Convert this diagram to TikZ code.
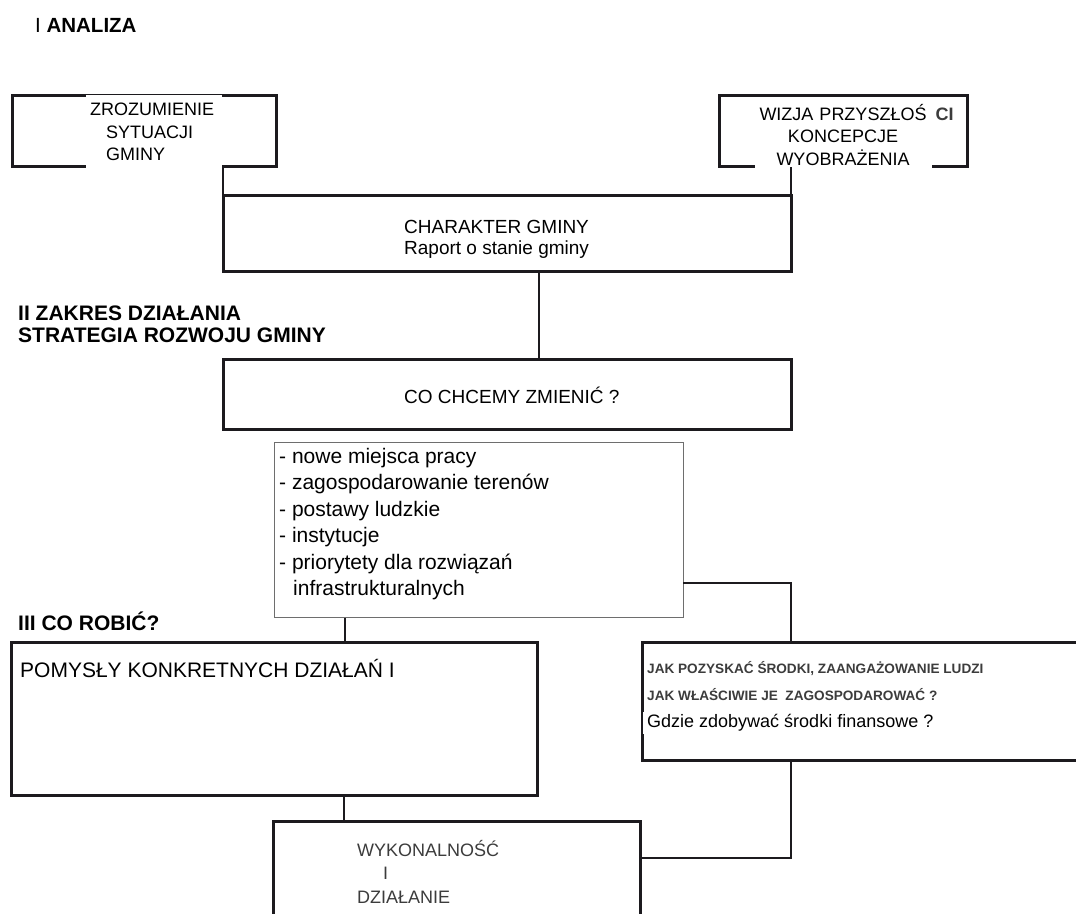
\documentclass[tikz,border=0pt]{standalone}
\usepackage{fontspec}
\setmainfont{Liberation Sans}
\usepackage{tikz}
\usetikzlibrary{positioning}
\usepackage{xcolor}
\definecolor{inkblack}{RGB}{28, 26, 30}
\definecolor{framegray}{RGB}{110, 110, 110}
\definecolor{printgray}{RGB}{60, 60, 60}

\begin{document}
\begin{tikzpicture}[x=1pt, y=1pt,
    box/.style={draw=inkblack, line width=3pt, anchor=north west, inner sep=0pt, outer sep=0pt},
    link/.style={draw=inkblack, line width=2pt},
    heading/.style={anchor=west, inner sep=0pt, align=left, font=\fontsize{21}{22}\selectfont\bfseries},
    boxtext/.style={anchor=west, inner sep=0pt, align=left}]
    % Page - 1076 x 913
    \useasboundingbox (0,0) rectangle (1076,913);
    \clip (0,0) rectangle (1076,913);
    \fill[white] (0,0) rectangle (1076,913);

    % Part I - analysis
    \node[heading, font=\fontsize{20.5}{22}\selectfont\bfseries] (partone) at (35,888) {{\mdseries I} ANALIZA};

    \node[box, minimum width=264, minimum height=71] (understand) at (12,817) {};
    \node[boxtext, fill=white, text width=128, inner xsep=4pt, minimum height=73,
        font=\fontsize{18}{22.5}\selectfont] (understandtext) at (86,781)
        {ZROZUMIENIE\\\hspace*{16pt}SYTUACJI\\\hspace*{16pt}GMINY};

    \node[box, minimum width=248, minimum height=71] (vision) at (719,817) {};
    \node[fill=white, inner xsep=4pt, inner ysep=0pt, text width=169, minimum height=70,
        align=center, font=\fontsize{18}{22.5}\selectfont] (visiontext) at (843,778)
        {WIZJA PRZYSZŁOŚ\rlap{\hspace{9pt}\textcolor{printgray}{\bfseries CI}}\\KONCEPCJE\\WYOBRAŻENIA};

    \node[box, minimum width=568, minimum height=76] (character) at (223,717) {};
    \node[boxtext, font=\fontsize{19}{21}\selectfont] (charactertext) at (404,673.5)
        {CHARAKTER GMINY\\Raport o stanie gminy};

    % Part II - scope of action
    \node[heading] (parttwo) at (18,589) {II ZAKRES DZIAŁANIA\\STRATEGIA ROZWOJU GMINY};

    \node[box, minimum width=568, minimum height=70] (change) at (223,553) {};
    \node[boxtext, font=\fontsize{19}{21}\selectfont] (changetext) at (404,518) {CO CHCEMY ZMIENIĆ ?};

    \node[box, draw=framegray, line width=1pt, minimum width=409, minimum height=175] (wants) at (274,470) {};
    \node[boxtext, font=\fontsize{21}{26.4}\selectfont] (wantstext) at (279,389)
        {- nowe miejsca pracy\\- zagospodarowanie terenów\\- postawy ludzkie\\- instytucje\\%
         - priorytety dla rozwiązań\\\hspace*{14pt}infrastrukturalnych};

    % Part III - what to do
    \node[heading] (partthree) at (18,292) {III CO ROBIĆ?};

    \node[box, minimum width=526, minimum height=153] (ideas) at (11,270) {};
    \node[boxtext, font=\fontsize{21}{25}\selectfont] (ideastext) at (20,245) {POMYSŁY KONKRETNYCH DZIAŁAŃ I};

    \node[box, minimum width=460, minimum height=118] (funds) at (642,270) {};
    \node[boxtext, text=printgray, font=\fontsize{13.6}{27}\selectfont\bfseries] (fundstext) at (647,231.5)
        {JAK POZYSKAĆ ŚRODKI, ZAANGAŻOWANIE LUDZI\\JAK WŁAŚCIWIE JE\ \ ZAGOSPODAROWAĆ ?};
    \node[boxtext, fill=white, inner xsep=4pt, inner ysep=3pt, font=\fontsize{18}{22}\selectfont] (fundsnote)
        at (643,190) {Gdzie zdobywać środki finansowe ?};

    \node[box, minimum width=367, minimum height=110] (doing) at (273,91) {};
    \node[boxtext, text=printgray, font=\fontsize{18}{23.5}\selectfont] (doingtext) at (357,41.5)
        {WYKONALNOŚĆ\\\hspace*{26pt}I\\DZIAŁANIE};

    % Connectors
    \draw[link] (character.north west) -- (character.north west |- understand.south);
    \draw[link] (character.north east) -- (character.north east |- vision.south);

    \coordinate (characterdrop) at ([xshift=316]character.south west);
    \draw[link] (characterdrop) -- (characterdrop |- change.north);

    \coordinate (wantsdrop) at ([xshift=71]wants.south west);
    \draw[link] (wantsdrop) -- (wantsdrop |- ideas.north);

    \coordinate (wantsexit) at ([yshift=35]wants.south east);
    \coordinate (fundsrise) at ([xshift=149]funds.north west);
    \draw[link] (wantsexit) -| (fundsrise);

    \coordinate (ideasdrop) at ([xshift=333]ideas.south west);
    \draw[link] (ideasdrop) -- (ideasdrop |- doing.north);

    \coordinate (fundsdrop) at ([xshift=149]funds.south west);
    \coordinate (doingentry) at ([yshift=-36]doing.north east);
    \draw[link] (fundsdrop) |- (doingentry);

\end{tikzpicture}
\end{document}
